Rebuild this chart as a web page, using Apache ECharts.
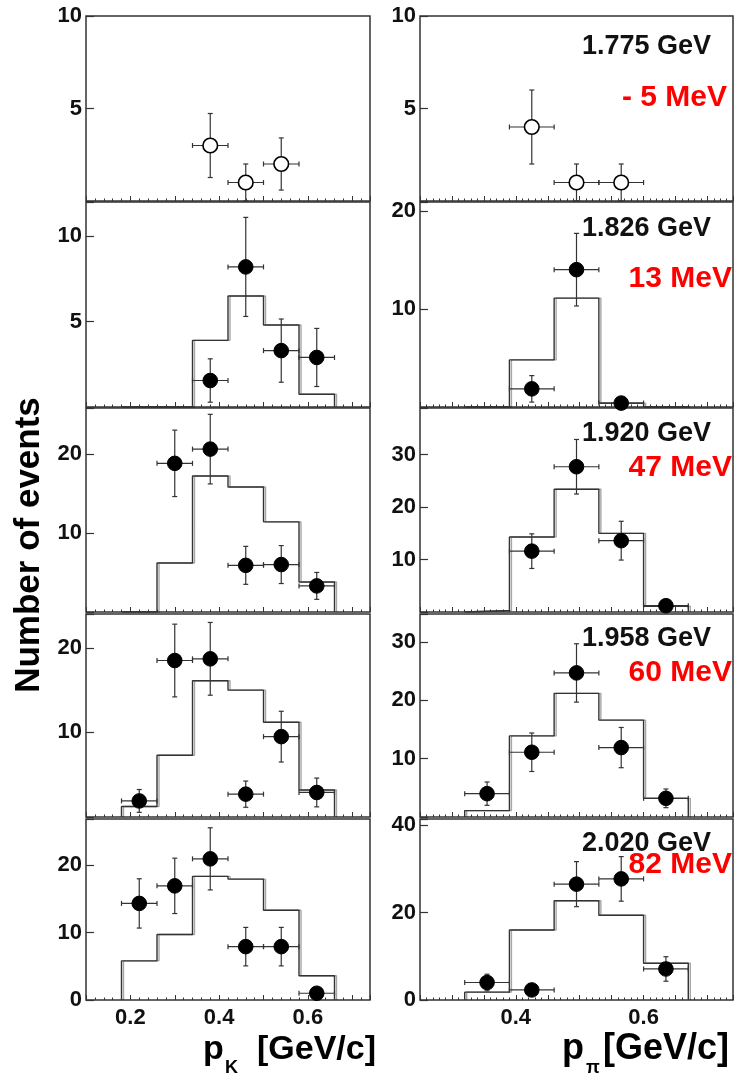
<!DOCTYPE html>
<html>
<head>
<meta charset="utf-8">
<script src="https://cdn.jsdelivr.net/npm/echarts@6/dist/echarts.min.js"></script>
<style>
html,body{margin:0;padding:0;background:#fff;}
#chart{width:741px;height:1073px;}
</style>
</head>
<body>
<div id="chart"></div>
<script>
// ---------------- DATA ----------------
const kEdges = [0.18, 0.26, 0.34, 0.42, 0.50, 0.58, 0.66];
const piEdges = [0.32, 0.39, 0.46, 0.53, 0.60, 0.67];
const kCenters = [0.22, 0.30, 0.38, 0.46, 0.54, 0.62];
const piCenters = [0.355, 0.425, 0.495, 0.565, 0.635];
const kHalfWidth = 0.04;
const piHalfWidth = 0.035;

// histogram (MC) contents per row
const kHist1 = null;
const kHist2 = [0, 0, 3.9, 6.5, 4.8, 0.75];
const kHist3 = [0, 6.2, 17.2, 15.8, 11.4, 3.8];
const kHist4 = [1.25, 7.3, 16.1, 15.0, 11.2, 3.2];
const kHist5 = [5.8, 9.7, 18.3, 17.9, 13.3, 3.6];
const piHist1 = null;
const piHist2 = [0, 4.8, 11.1, 0.4, 0];
const piHist3 = [0.3, 14.3, 23.4, 15.0, 1.1];
const piHist4 = [1.1, 13.9, 21.2, 16.6, 3.2];
const piHist5 = [1.8, 16.0, 22.7, 19.4, 8.4];

// data points and errors per row
const kY1 = [null, null, 3, 1, 2, null];
const kE1 = [null, null, 1.73, 1, 1.41, null];
const kY2 = [null, null, 1.55, 8.2, 3.3, 2.9];
const kE2 = [null, null, 1.27, 2.9, 1.85, 1.7];
const kY3 = [null, 18.8, 20.6, 5.9, 6.0, 3.3];
const kE3 = [null, 4.2, 4.4, 2.4, 2.4, 1.7];
const kY4 = [1.9, 18.5, 18.7, 2.7, 9.5, 2.9];
const kE4 = [1.35, 4.3, 4.3, 1.55, 3.0, 1.7];
const kY5 = [14.3, 16.9, 20.9, 7.9, 7.9, 1.0];
const kE5 = [3.65, 4.1, 4.6, 2.85, 2.85, 0.7];

const piY1 = [null, 4, 1, 1, null];
const piE1 = [null, 2, 1, 1, null];
const piY2 = [null, 1.85, 14.0, 0.4, null];
const piE2 = [null, 1.35, 3.7, 0, null];
const piY3 = [null, 11.6, 27.7, 13.6, 1.2];
const piE3 = [null, 3.3, 5.2, 3.7, 0.6];
const piY4 = [4.0, 11.1, 24.7, 11.9, 3.2];
const piE4 = [2.0, 3.3, 5.0, 3.45, 1.6];
const piY5 = [4.0, 2.3, 26.5, 27.7, 7.1];
const piE5 = [1.9, 0.4, 5.15, 5.1, 2.8];

// axis ranges
const kYMax = [10, 12, 25.8, 24, 26.8];
const kYStep = [5, 5, 10, 10, 10];
const piYMax = [10, 20.9, 38.9, 34.8, 41.4];
const piYStep = [5, 10, 10, 10, 20];
const kXRange = [0.1, 0.74];
const piXRange = [0.25, 0.74];
const kXLabels = [0.2, 0.4, 0.6];
const piXLabels = [0.4, 0.6];

const energyLabels = ['1.775 GeV', '1.826 GeV', '1.920 GeV', '1.958 GeV', '2.020 GeV'];
const shiftLabels = ['- 5 MeV', '13 MeV', '47 MeV', '60 MeV', '82 MeV'];
const yTitle = 'Number of events';

// ---------------- LAYOUT ----------------
const rowTop = [16, 202, 408, 614, 819];
const rowH = [185, 205, 204, 203, 181];
const colLeft = [86, 420];
const colW = [284, 313];
const FONT = '"Liberation Sans", Arial, Helvetica, sans-serif';

const kHists = [kHist1, kHist2, kHist3, kHist4, kHist5];
const piHists = [piHist1, piHist2, piHist3, piHist4, piHist5];
const kYs = [kY1, kY2, kY3, kY4, kY5], kEs = [kE1, kE2, kE3, kE4, kE5];
const piYs = [piY1, piY2, piY3, piY4, piY5], piEs = [piE1, piE2, piE3, piE4, piE5];

const grid = [], xAxis = [], yAxis = [], series = [];

function stepData(edges, vals) {
  const d = [[edges[0], 0]];
  for (let i = 0; i < vals.length; i++) {
    d.push([edges[i], vals[i]]);
    d.push([edges[i + 1], vals[i]]);
  }
  d.push([edges[edges.length - 1], 0]);
  return d;
}
function pointData(centers, ys, es, hw) {
  const d = [];
  centers.forEach((c, i) => { if (ys[i] != null) d.push([c, ys[i], hw, es[i]]); });
  return d;
}
function errRender(open) {
  return function (params, api) {
    const x = api.value(0), y = api.value(1), ex = api.value(2), ey = api.value(3);
    const c = api.coord([x, y]);
    const l = api.coord([x - ex, y]);
    const r = api.coord([x + ex, y]);
    const t = api.coord([x, y + ey]);
    const b = api.coord([x, Math.max(0, y - ey)]);
    const st = { stroke: '#333', lineWidth: 1.2 };
    const ch = [
      { type: 'line', shape: { x1: l[0], y1: l[1], x2: r[0], y2: r[1] }, style: st },
      { type: 'line', shape: { x1: l[0], y1: l[1] - 2.5, x2: l[0], y2: l[1] + 2.5 }, style: st },
      { type: 'line', shape: { x1: r[0], y1: r[1] - 2.5, x2: r[0], y2: r[1] + 2.5 }, style: st }
    ];
    if (ey > 0) {
      ch.push({ type: 'line', shape: { x1: t[0], y1: t[1], x2: b[0], y2: b[1] }, style: st });
      ch.push({ type: 'line', shape: { x1: t[0] - 2.5, y1: t[1], x2: t[0] + 2.5, y2: t[1] }, style: st });
      ch.push({ type: 'line', shape: { x1: b[0] - 2.5, y1: b[1], x2: b[0] + 2.5, y2: b[1] }, style: st });
    }
    ch.push({ type: 'circle', shape: { cx: c[0], cy: c[1], r: 7.3 },
      style: { fill: open ? '#fff' : '#000', stroke: '#000', lineWidth: open ? 1.6 : 1 } });
    return { type: 'group', children: ch };
  };
}

for (let row = 0; row < 5; row++) {
  for (let col = 0; col < 2; col++) {
    const idx = grid.length;
    grid.push({ left: colLeft[col], top: rowTop[row], width: colW[col], height: rowH[row],
      show: true, borderColor: '#333', borderWidth: 1.5, backgroundColor: 'transparent' });
    const xr = col === 0 ? kXRange : piXRange;
    const xl = col === 0 ? kXLabels : piXLabels;
    xAxis.push({
      type: 'value', gridIndex: idx, min: xr[0], max: xr[1], interval: col === 0 ? 0.1 : 0.05,
      axisLine: { show: false },
      splitLine: { show: false },
      axisTick: { show: true, inside: true, length: 5, lineStyle: { color: '#333', width: 1 } },
      minorTick: { show: true, splitNumber: 5, length: 2.5, lineStyle: { color: '#333', width: 1 } },
      axisLabel: {
        show: row === 4, margin: 7, fontSize: 22, fontWeight: 'bold', fontFamily: FONT, color: '#111',
        showMaxLabel: false, showMinLabel: false,
        formatter: v => xl.some(q => Math.abs(q - v) < 1e-6) ? v.toFixed(1) : ''
      }
    });
    const ymax = col === 0 ? kYMax[row] : piYMax[row];
    const ystep = col === 0 ? kYStep[row] : piYStep[row];
    yAxis.push({
      type: 'value', gridIndex: idx, min: 0, max: ymax, interval: ystep,
      axisLine: { show: false },
      splitLine: { show: false },
      axisTick: { show: true, inside: true, length: 8, lineStyle: { color: '#333', width: 1.2 } },
      axisLabel: {
        margin: 4, fontSize: 22, fontWeight: 'bold', fontFamily: FONT, color: '#111',
        formatter: v => {
          const k = Math.round(v / ystep);
          if (Math.abs(v - k * ystep) > 1e-6) return '';
          if (v === 0 && row !== 4) return '';
          return String(v);
        }
      }
    });
    const hist = col === 0 ? kHists[row] : piHists[row];
    if (hist) {
      series.push({
        type: 'line', xAxisIndex: idx, yAxisIndex: idx,
        data: stepData(col === 0 ? kEdges : piEdges, hist),
        symbol: 'none', silent: true, z: 2,
        lineStyle: { color: '#333', width: 1.4, shadowColor: 'rgba(0,0,0,0.35)', shadowOffsetX: 2, shadowOffsetY: 0, shadowBlur: 0 }
      });
    }
    series.push({
      type: 'custom', xAxisIndex: idx, yAxisIndex: idx, z: 5,
      data: col === 0 ? pointData(kCenters, kYs[row], kEs[row], kHalfWidth)
                      : pointData(piCenters, piYs[row], piEs[row], piHalfWidth),
      renderItem: errRender(row === 0)
    });
  }
}

// ---------------- TEXT ----------------
const geVTop = [33, 215, 420, 625, 830];
const meVTop = [83, 264, 453, 658, 850];
const meVRight = [727, 732, 732, 732, 732];
const graphic = [];
for (let r = 0; r < 5; r++) {
  graphic.push({ type: 'text', x: 711, y: geVTop[r], z: 10,
    style: { text: energyLabels[r], fontSize: 27, fontWeight: 'bold', fontFamily: FONT, fill: '#111',
      align: 'right', verticalAlign: 'top', textAlign: 'right', textVerticalAlign: 'top' } });
  graphic.push({ type: 'text', x: meVRight[r], y: meVTop[r], z: 10,
    style: { text: shiftLabels[r], fontSize: 30, fontWeight: 'bold', fontFamily: FONT, fill: '#ff0000',
      align: 'right', verticalAlign: 'top', textAlign: 'right', textVerticalAlign: 'top' } });
}
graphic.push({ type: 'text', x: 29, y: 545, rotation: Math.PI / 2, z: 10,
  style: { text: yTitle, fontSize: 35, fontWeight: 'bold', fontFamily: FONT, fill: '#000',
    align: 'center', verticalAlign: 'middle', textAlign: 'center', textVerticalAlign: 'middle' } });
// x titles
function xTitle(px, subx, sub, bx, fs) {
  graphic.push({ type: 'text', x: px, y: 1067, style: { text: 'p', fontSize: fs, fontWeight: 'bold', fontFamily: FONT, fill: '#000', align: 'left', verticalAlign: 'bottom', textAlign: 'left', textVerticalAlign: 'bottom' } });
  graphic.push({ type: 'text', x: subx, y: 1077, style: { text: sub, fontSize: 18, fontWeight: 'bold', fontFamily: FONT, fill: '#000', align: 'left', verticalAlign: 'bottom', textAlign: 'left', textVerticalAlign: 'bottom' } });
  graphic.push({ type: 'text', x: bx, y: 1067, style: { text: '[GeV/c]', fontSize: fs, fontWeight: 'bold', fontFamily: FONT, fill: '#000', align: 'left', verticalAlign: 'bottom', textAlign: 'left', textVerticalAlign: 'bottom' } });
}
xTitle(203, 225, 'K', 257, 34);
xTitle(562, 586, 'π', 603, 36);

const chart = echarts.init(document.getElementById('chart'), null, { renderer: 'canvas' });
chart.setOption({
  animation: false,
  backgroundColor: '#fff',
  grid, xAxis, yAxis, series, graphic
});
</script>
</body>
</html>
